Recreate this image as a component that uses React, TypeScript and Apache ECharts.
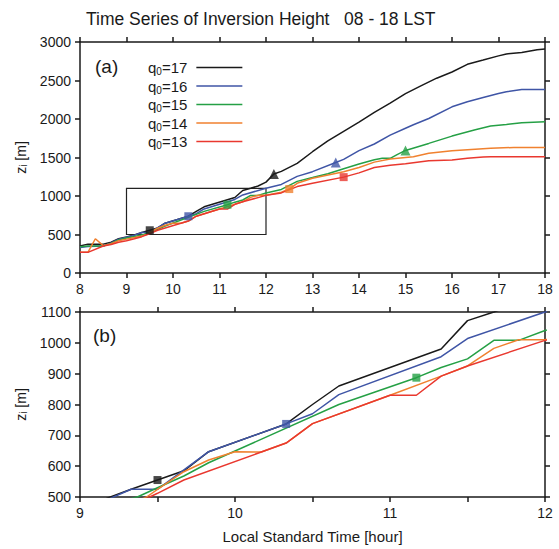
import React, { useEffect, useRef } from 'react';
import * as echarts from 'echarts';

const FONT = '"Liberation Sans", Arial, Helvetica, sans-serif';

// Series names (q0 values) and colours
const seriesNames = ['q0=17', 'q0=16', 'q0=15', 'q0=14', 'q0=13'];
const seriesColors = ['#1a1a1a', '#3f55a6', '#25a045', '#f0812f', '#e9382f'];

// Inversion height [m] vs local standard time [hour]
const q17: [number, number][] = [
  [8.0, 350], [8.17, 375], [8.5, 375], [8.67, 400], [8.83, 445], [9.0, 468], [9.17, 495],
  [9.33, 525], [9.5, 555], [9.67, 585], [9.83, 647], [10.33, 737], [10.5, 800], [10.67, 860],
  [11.33, 980], [11.5, 1072], [11.67, 1100], [11.83, 1130], [12.0, 1180], [12.17, 1285],
  [12.33, 1320], [12.67, 1424], [13.0, 1575], [13.33, 1715], [13.67, 1840], [14.0, 1960],
  [14.33, 2085], [14.67, 2205], [15.0, 2330], [15.33, 2430], [15.67, 2530], [16.0, 2610],
  [16.33, 2710], [16.67, 2765], [17.0, 2820], [17.17, 2845], [17.5, 2865], [17.83, 2900], [18.0, 2910],
];
const q16: [number, number][] = [
  [8.0, 330], [8.17, 345], [8.5, 350], [8.67, 390], [8.83, 440], [9.0, 465], [9.17, 490],
  [9.33, 525], [9.5, 525], [9.83, 647], [10.33, 737], [10.5, 770], [10.67, 832], [11.33, 955],
  [11.5, 1014], [12.0, 1100], [12.33, 1150], [12.67, 1255], [13.0, 1316], [13.5, 1435],
  [13.67, 1475], [14.0, 1590], [14.33, 1675], [14.67, 1790], [15.0, 1880], [15.17, 1925],
  [15.5, 2007], [16.0, 2158], [16.33, 2225], [16.67, 2280], [17.0, 2330], [17.17, 2355],
  [17.5, 2382], [18.0, 2382],
];
const q15: [number, number][] = [
  [8.0, 340], [8.17, 350], [8.5, 350], [8.67, 385], [8.83, 430], [9.0, 455], [9.17, 475],
  [9.37, 500], [9.5, 530], [9.67, 568], [9.83, 611], [10.67, 800], [11.17, 887], [11.33, 920],
  [11.5, 948], [11.67, 1008], [11.83, 1008], [12.0, 1040], [12.33, 1085], [12.67, 1190],
  [13.0, 1239], [13.33, 1290], [13.67, 1355], [14.0, 1415], [14.33, 1470], [14.5, 1489],
  [14.67, 1489], [14.83, 1540], [15.0, 1592], [15.5, 1683], [16.0, 1778], [16.5, 1860],
  [16.83, 1910], [17.17, 1929], [17.5, 1951], [18.0, 1964],
];
const q14: [number, number][] = [
  [8.0, 268], [8.17, 268], [8.33, 445], [8.5, 355], [8.67, 380], [8.83, 420], [9.0, 440],
  [9.17, 460], [9.33, 480], [9.43, 500], [9.5, 525], [9.67, 582], [9.83, 620], [10.0, 647],
  [10.17, 646], [10.33, 675], [10.5, 738], [11.0, 830], [11.33, 892], [11.5, 925], [11.67, 982],
  [11.83, 1010], [12.0, 1010], [12.33, 1050], [12.5, 1090], [12.67, 1165], [13.0, 1230],
  [13.67, 1316], [14.0, 1370], [14.33, 1440], [14.67, 1480], [15.0, 1500], [15.17, 1510],
  [15.5, 1554], [16.0, 1588], [16.5, 1608], [16.83, 1619], [17.33, 1631], [18.0, 1631],
];
const q13: [number, number][] = [
  [8.0, 268], [8.17, 268], [8.5, 350], [8.67, 370], [8.83, 400], [9.0, 420], [9.17, 445],
  [9.33, 472], [9.45, 500], [9.5, 512], [9.67, 555], [10.33, 675], [10.5, 738], [11.0, 830],
  [11.17, 830], [11.33, 892], [11.5, 925], [12.0, 1008], [12.33, 1040], [12.67, 1122],
  [13.0, 1165], [13.67, 1245], [14.0, 1300], [14.33, 1370], [14.67, 1400], [15.0, 1420],
  [15.5, 1459], [16.0, 1467], [16.33, 1489], [16.67, 1505], [16.83, 1510], [18.0, 1510],
];
const seriesData = [q17, q16, q15, q14, q13];

// Marked points: squares and triangles (index into seriesColors)
const squarePoints: [number, number, number][] = [
  [9.5, 555, 0], [10.33, 737, 1], [11.17, 887, 2], [12.5, 1090, 3], [13.67, 1245, 4],
];
const trianglePoints: [number, number, number][] = [
  [12.17, 1285, 0], [13.5, 1435, 1], [15.0, 1592, 2],
];

// Zoom box shown in panel (a)
const zoomBox = { x0: 9, x1: 12, y0: 500, y1: 1100 };

const axisLineStyle = { color: '#1a1a1a', width: 1.5 };
const labelStyle = { color: '#1a1a1a', fontSize: 14, fontFamily: FONT };

function mkAxis(base: any, show: boolean, extra: any = {}) {
  const { axisLabel: extraLabel, ...rest } = extra;
  return {
    ...base,
    axisLine: { show: true, onZero: false, lineStyle: axisLineStyle },
    axisTick: { show: true, inside: false, length: 5, lineStyle: axisLineStyle },
    axisLabel: show
      ? { ...labelStyle, margin: 9, formatter: (v: number) => String(v), ...(extraLabel || {}) }
      : { show: false },
    splitLine: { show: false },
    ...rest,
  };
}

export default function App() {
  const ref = useRef<HTMLDivElement>(null);
  useEffect(() => {
    if (!ref.current) return;
    const chart = echarts.init(ref.current, null, { renderer: 'svg' });

    const xA = { type: 'value', min: 8, max: 18, interval: 1, gridIndex: 0 };
    const yA = { type: 'value', min: 0, max: 3000, interval: 500, gridIndex: 0 };
    const xB = { type: 'value', min: 9, max: 12, interval: 0.5, gridIndex: 1 };
    const yB = { type: 'value', min: 500, max: 1100, interval: 100, gridIndex: 1 };

    const yName = {
      name: '{z|z}{i|i}{z| [m]}',
      nameLocation: 'middle',
      nameRotate: 90,
      nameGap: 48,
      nameTextStyle: {
        rich: {
          z: { fontSize: 14, fontFamily: FONT, color: '#1a1a1a', lineHeight: 16 },
          i: { fontSize: 10, fontFamily: FONT, color: '#1a1a1a', lineHeight: 8, verticalAlign: 'bottom' },
        },
      },
    };

    const lineSeries: any[] = [];
    [0, 1].forEach((g) => {
      seriesData.forEach((d, i) => {
        const s: any = {
          type: 'line',
          name: seriesNames[i],
          xAxisIndex: g * 2,
          yAxisIndex: g * 2,
          data: d,
          symbol: 'none',
          clip: true,
          lineStyle: { color: seriesColors[i], width: 1.5 },
          itemStyle: { color: seriesColors[i] },
          z: 2 + i,
        };
        if (g === 0 && i === 0) {
          s.markArea = {
            silent: true,
            itemStyle: { color: 'rgba(0,0,0,0)', borderColor: '#222', borderWidth: 1.2 },
            data: [[{ coord: [zoomBox.x0, zoomBox.y0] }, { coord: [zoomBox.x1, zoomBox.y1] }]],
          };
        }
        lineSeries.push(s);
      });
      lineSeries.push({
        type: 'scatter',
        name: 'marks' + g,
        xAxisIndex: g * 2,
        yAxisIndex: g * 2,
        clip: true,
        z: 10,
        data: [
          ...squarePoints.map((p) => ({
            value: [p[0], p[1]],
            symbol: 'rect',
            symbolSize: 8,
            itemStyle: { color: seriesColors[p[2]] },
          })),
          ...trianglePoints.map((p) => ({
            value: [p[0], p[1]],
            symbol: 'triangle',
            symbolSize: 10,
            itemStyle: { color: seriesColors[p[2]] },
          })),
        ],
      });
    });

    chart.setOption({
      animation: false,
      backgroundColor: '#ffffff',
      title: {
        text: 'Time Series of Inversion Height   08 - 18 LST',
        left: 81,
        top: 5,
        textStyle: { fontSize: 17.5, fontWeight: 'normal', fontFamily: FONT, color: '#1a1a1a' },
      },
      grid: [
        { left: 80, top: 42, width: 465, height: 231 },
        { left: 80, top: 312, width: 465, height: 185 },
      ],
      xAxis: [
        mkAxis({ ...xA, position: 'bottom' }, true),
        mkAxis({ ...xA, position: 'top' }, false),
        mkAxis({ ...xB, position: 'bottom' }, true, {
          axisLabel: { formatter: (v: number) => (Number.isInteger(v) ? String(v) : '') },
          name: 'Local Standard Time [hour]',
          nameLocation: 'middle',
          nameGap: 32,
          nameTextStyle: { fontSize: 15, fontFamily: FONT, color: '#1a1a1a' },
        }),
        mkAxis({ ...xB, position: 'top' }, false),
      ],
      yAxis: [
        mkAxis({ ...yA, position: 'left' }, true, yName),
        mkAxis({ ...yA, position: 'right' }, false),
        mkAxis({ ...yB, position: 'left' }, true, yName),
        mkAxis({ ...yB, position: 'right' }, false),
      ],
      legend: {
        data: seriesNames.map((n) => ({ name: n, icon: 'rect' })),
        orient: 'vertical',
        left: 143,
        top: 55,
        align: 'right',
        itemWidth: 46,
        itemHeight: 1.6,
        itemGap: 2,
        selectedMode: false,
        formatter: (name: string) => '{a|q}{b|0}{a|' + name.slice(2) + '}',
        textStyle: {
          rich: {
            a: { fontSize: 15, fontFamily: FONT, color: '#1a1a1a', lineHeight: 18 },
            b: { fontSize: 10, fontFamily: FONT, color: '#1a1a1a', lineHeight: 8, verticalAlign: 'bottom' },
          },
          padding: [0, 4, 0, 0],
        },
      },
      graphic: [
        { type: 'text', left: 95, top: 57, style: { text: '(a)', fontSize: 19, fontFamily: FONT, fill: '#1a1a1a' } },
        { type: 'text', left: 93, top: 326, style: { text: '(b)', fontSize: 19, fontFamily: FONT, fill: '#1a1a1a' } },
      ],
      series: lineSeries,
    });
    return () => chart.dispose();
  }, []);
  return (
    <div
      ref={ref}
      style={{ position: 'fixed', left: 0, top: 0, width: 559, height: 549, background: '#fff' }}
    />
  );
}
